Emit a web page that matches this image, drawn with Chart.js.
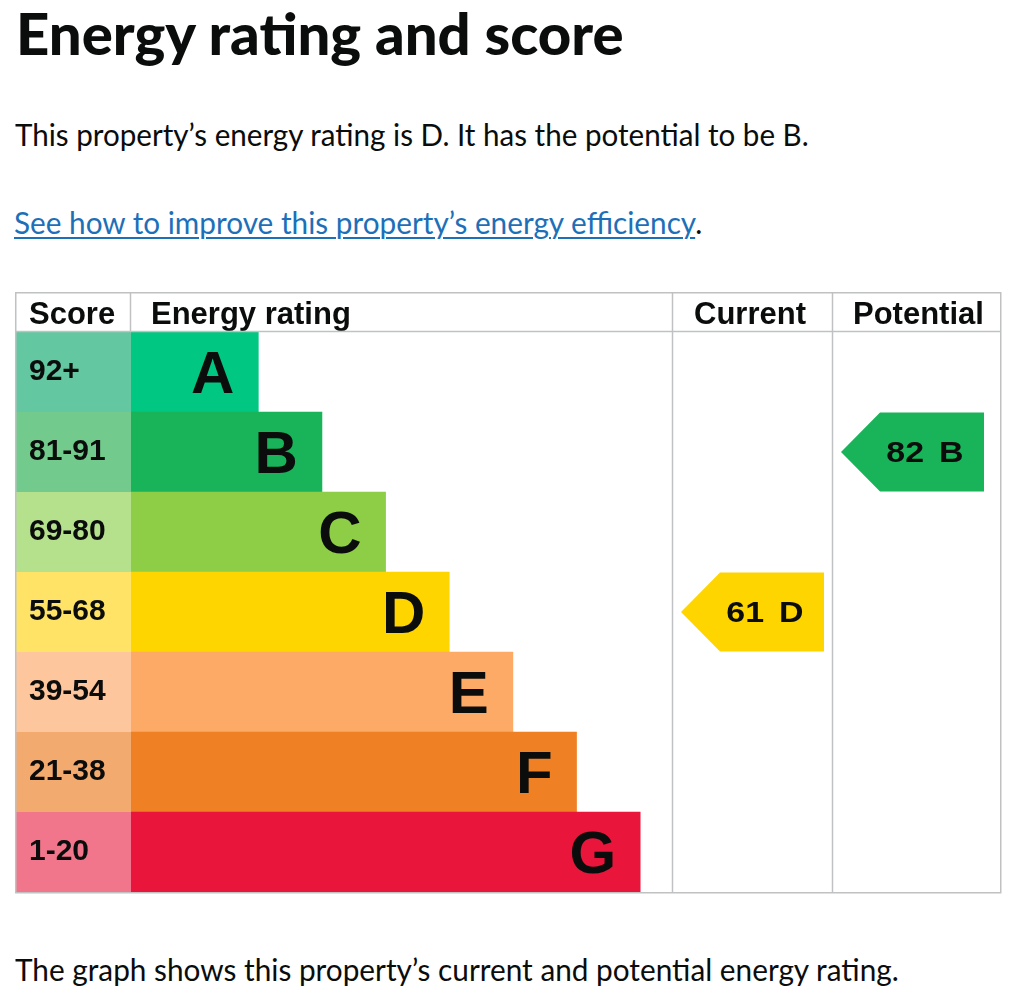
<!DOCTYPE html>
<html>
<head>
<meta charset="utf-8">
<title>Energy rating and score</title>
<script src="https://cdn.jsdelivr.net/npm/chart.js@4.4.1/dist/chart.umd.min.js"></script>
<style>
  html, body { margin: 0; padding: 0; background: #fff; width: 1024px; height: 994px; overflow: hidden; }
  .t { position: absolute; white-space: nowrap; line-height: 1; transform-origin: 0 0;
       color: #0b0c0c; font-family: Lato, "Noto Sans", sans-serif; }
  #title { left: 16px; top: 5px; font-size: 57px; font-weight: 900; }
  #intro { left: 15px; top: 119px; font-size: 30px; }
  #more { left: 14px; top: 207px; font-size: 30px; }
  #more a { color: #1d70b8; text-decoration: underline; text-decoration-thickness: 2px; text-underline-offset: 3px; }
  #note { left: 15px; top: 954px; font-size: 30px; }
  #chartBox { position: absolute; left: 15px; top: 292px; width: 987px; height: 602px; }
</style>
</head>
<body>
<div class="t" id="title" data-w="608">Energy rating and score</div>
<div class="t" id="intro" data-w="794">This property’s energy rating is D. It has the potential to be B.</div>
<div class="t" id="more" data-w="688"><a href="#">See how to improve this property’s energy efficiency</a>.</div>
<div class="t" id="note" data-w="884">The graph shows this property’s current and potential energy rating.</div>
<div id="chartBox"><canvas id="epc" width="987" height="602"></canvas></div>

<script>
// bands, top (best) to bottom
const ratingBands = ['A', 'B', 'C', 'D', 'E', 'F', 'G'];
const scoreRanges = ['92+', '81-91', '69-80', '55-68', '39-54', '21-38', '1-20'];
const bandMinScores = [92, 81, 69, 55, 39, 21, 1];
const barLengths = [2, 3, 4, 5, 6, 7, 8];
const columnHeaders = ['Score', 'Energy rating', 'Current', 'Potential'];
const currentScore = 61;
const potentialScore = 82;

const bandColours = ['#00c781', '#19b459', '#8dce46', '#ffd500', '#fcaa65', '#ef8023', '#e9153b'];
const scoreCellColours = ['#63c7a1', '#72cb8c', '#b5e08c', '#ffe366', '#fec69c', '#f3aa6f', '#f1768b'];

// squeeze the page text to the widths of the original
function fitText() {
    document.querySelectorAll('.t').forEach(el => {
        el.style.transform = 'none';
        const w = +el.dataset.w;
        el.style.transform = `scaleX(${w / el.offsetWidth})`;
    });
}
fitText();
if (document.fonts) document.fonts.ready.then(fitText);

const FONT = '"Liberation Sans", Arial, sans-serif';
const INK = '#0b0c0c';
const LINE = '#bfc1c3';

function bandIndex(score) {
    return bandMinScores.findIndex(m => score >= m);
}

const epcTable = {
    id: 'epcTable',
    beforeDatasetsDraw(chart) {
        const { ctx, chartArea, scales: { y } } = chart;
        const half = (y.getPixelForValue(1) - y.getPixelForValue(0)) / 2;
        ctx.save();
        scoreRanges.forEach((r, i) => {
            const cy = y.getPixelForValue(i);
            ctx.fillStyle = scoreCellColours[i];
            ctx.fillRect(1, cy - half, chartArea.left - 1, half * 2);
        });
        ctx.restore();
    },
    afterDatasetsDraw(chart) {
        const { ctx, chartArea, scales: { y } } = chart;
        const W = chart.width;
        const half = (y.getPixelForValue(1) - y.getPixelForValue(0)) / 2;
        const bars = chart.getDatasetMeta(0).data;
        const curLeft = chartArea.right;
        const potLeft = chartArea.right + 160;
        const right = W - 2;

        ctx.save();
        ctx.fillStyle = INK;

        // band letters inside the bars
        ctx.font = `bold 60px ${FONT}`;
        ctx.textAlign = 'right';
        ctx.textBaseline = 'alphabetic';
        bars.forEach((bar, i) => {
            ctx.fillText(ratingBands[i], bar.x - 24, bar.y + 21);
        });

        // score ranges
        ctx.font = `bold 30px ${FONT}`;
        ctx.textAlign = 'left';
        scoreRanges.forEach((r, i) => {
            ctx.fillText(r, 14, y.getPixelForValue(i) + 8);
        });

        // header row
        ctx.font = `bold 31px ${FONT}`;
        const headX = [14, chartArea.left + 20, curLeft + 22, potLeft + 21];
        columnHeaders.forEach((h, i) => ctx.fillText(h, headX[i], 32));

        // grid lines
        ctx.strokeStyle = LINE;
        ctx.lineWidth = 1.5;
        ctx.beginPath();
        ctx.rect(0.75, 0.75, right, chartArea.bottom);
        ctx.moveTo(0, chartArea.top - 0.5); ctx.lineTo(right, chartArea.top - 0.5);
        ctx.moveTo(chartArea.left - 0.5, 0); ctx.lineTo(chartArea.left - 0.5, chartArea.top);
        ctx.moveTo(curLeft + 0.5, 0); ctx.lineTo(curLeft + 0.5, chartArea.bottom);
        ctx.moveTo(potLeft + 0.5, 0); ctx.lineTo(potLeft + 0.5, chartArea.bottom);
        ctx.stroke();

        // current / potential arrows
        [[currentScore, curLeft], [potentialScore, potLeft]].forEach(([score, colLeft]) => {
            const i = bandIndex(score);
            const cy = y.getPixelForValue(i);
            const tip = colLeft + 9;
            const top = cy - half + 0.5, bot = cy + half - 0.5;
            ctx.fillStyle = bandColours[i];
            ctx.beginPath();
            ctx.moveTo(tip, cy);
            ctx.lineTo(tip + 39, top);
            ctx.lineTo(tip + 143, top);
            ctx.lineTo(tip + 143, bot);
            ctx.lineTo(tip + 39, bot);
            ctx.closePath();
            ctx.fill();

            ctx.fillStyle = INK;
            ctx.font = `bold 29px ${FONT}`;
            ctx.save();
            ctx.translate(tip + 83, cy + 10);
            ctx.scale(1.17, 1);
            ctx.textAlign = 'right';
            ctx.fillText(String(score), 0, 0);
            ctx.restore();
            ctx.save();
            ctx.translate(tip + 98, cy + 10);
            ctx.scale(1.17, 1);
            ctx.textAlign = 'left';
            ctx.fillText(ratingBands[i], 0, 0);
            ctx.restore();
        });
        ctx.restore();
    }
};

new Chart(document.getElementById('epc'), {
    type: 'bar',
    data: {
        labels: ratingBands,
        datasets: [{
            data: barLengths,
            backgroundColor: bandColours,
            borderWidth: 0,
            barPercentage: 1,
            categoryPercentage: 1
        }]
    },
    options: {
        indexAxis: 'y',
        responsive: false,
        animation: false,
        layout: { padding: { left: 116, right: 330, top: 40, bottom: 2 } },
        scales: {
            x: { display: false, min: 0, max: 8.5 },
            y: { display: false }
        },
        plugins: {
            legend: { display: false },
            tooltip: { enabled: false }
        }
    },
    plugins: [epcTable]
});
</script>
</body>
</html>
